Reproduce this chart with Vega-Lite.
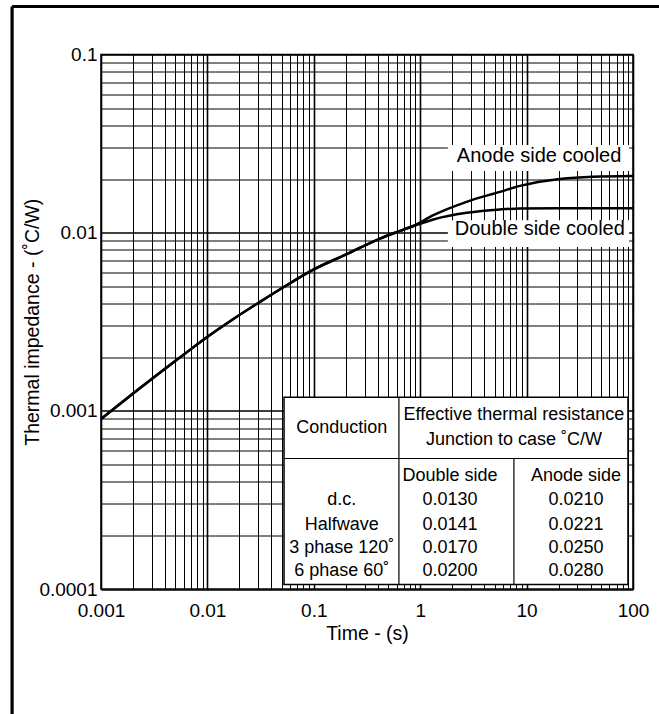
{
  "$schema": "https://vega.github.io/schema/vega-lite/v6.json",
  "width": 532,
  "height": 534.5,
  "autosize": {"type": "none"},
  "padding": {"left": 101, "top": 54.5, "right": 26, "bottom": 125},
  "background": "white",
  "config": {
    "view": {"stroke": "#000", "strokeWidth": 1.5},
    "font": "Liberation Sans",
    "text": {"font": "Liberation Sans", "color": "#000"},
    "axis": {
      "labelFont": "Liberation Sans",
      "titleFont": "Liberation Sans",
      "labelColor": "#000",
      "titleColor": "#000",
      "titleFontWeight": "normal",
      "labelFontSize": 19,
      "titleFontSize": 19.5,
      "ticks": false,
      "domain": false,
      "grid": true,
      "gridColor": "#000",
      "gridOpacity": 1,
      "labelOverlap": false,
      "labelFlush": false
    }
  },
  "datasets": {
    "curves": [
      {"series": "Anode", "x": 0.001, "y": 0.0009},
      {"series": "Anode", "x": 0.002, "y": 0.00125},
      {"series": "Anode", "x": 0.00333, "y": 0.001585},
      {"series": "Anode", "x": 0.00594, "y": 0.00206},
      {"series": "Anode", "x": 0.0098, "y": 0.00258},
      {"series": "Anode", "x": 0.01755, "y": 0.00328},
      {"series": "Anode", "x": 0.0312, "y": 0.00409},
      {"series": "Anode", "x": 0.0556, "y": 0.00507},
      {"series": "Anode", "x": 0.099, "y": 0.0062},
      {"series": "Anode", "x": 0.204, "y": 0.00757},
      {"series": "Anode", "x": 0.419, "y": 0.00927},
      {"series": "Anode", "x": 0.646, "y": 0.01023},
      {"series": "Anode", "x": 0.861, "y": 0.0109},
      {"series": "Anode", "x": 1.33, "y": 0.01254},
      {"series": "Anode", "x": 2.73, "y": 0.0149},
      {"series": "Anode", "x": 5.62, "y": 0.01695},
      {"series": "Anode", "x": 8.67, "y": 0.0183},
      {"series": "Anode", "x": 20.6, "y": 0.02},
      {"series": "Anode", "x": 42, "y": 0.0206},
      {"series": "Anode", "x": 100, "y": 0.0208},
      {"series": "Double", "x": 0.001, "y": 0.0009},
      {"series": "Double", "x": 0.002, "y": 0.00125},
      {"series": "Double", "x": 0.00333, "y": 0.001585},
      {"series": "Double", "x": 0.00594, "y": 0.00206},
      {"series": "Double", "x": 0.0098, "y": 0.00258},
      {"series": "Double", "x": 0.01755, "y": 0.00328},
      {"series": "Double", "x": 0.0312, "y": 0.00409},
      {"series": "Double", "x": 0.0556, "y": 0.00507},
      {"series": "Double", "x": 0.099, "y": 0.0062},
      {"series": "Double", "x": 0.204, "y": 0.00757},
      {"series": "Double", "x": 0.419, "y": 0.00927},
      {"series": "Double", "x": 0.646, "y": 0.01023},
      {"series": "Double", "x": 0.861, "y": 0.0109},
      {"series": "Double", "x": 1.33, "y": 0.01186},
      {"series": "Double", "x": 2.73, "y": 0.01292},
      {"series": "Double", "x": 5.62, "y": 0.0135},
      {"series": "Double", "x": 8.67, "y": 0.01368},
      {"series": "Double", "x": 20, "y": 0.0137},
      {"series": "Double", "x": 100, "y": 0.0137}
    ],
    "boxes": [
      {"name": "table", "x": 0.0525, "x2": 89.7, "y": 0.000106, "y2": 0.00119},
      {"name": "anodeLabel", "x": 1.82, "x2": 92, "y": 0.0222, "y2": 0.031},
      {"name": "doubleLabel", "x": 1.82, "x2": 92, "y": 0.0083, "y2": 0.01175}
    ],
    "tableLines": [
      {"x": 0.0525, "x2": 89.7, "y": 0.00054, "y2": 0.00054},
      {"x": 0.631, "x2": 0.631, "y": 0.000106, "y2": 0.00119},
      {"x": 7.6, "x2": 7.6, "y": 0.000106, "y2": 0.00054}
    ],
    "frame": [
      {"x": 0.000146, "x2": 0.000146, "y": 0.186, "y2": 0.0000185},
      {"x": 0.000146, "x2": 185, "y": 0.186, "y2": 0.186}
    ],
    "tableText": [
      {"x": 0.1828, "y": 0.0008, "label": "Conduction"},
      {"x": 7.6, "y": 0.000944, "label": "Effective thermal resistance"},
      {"x": 7.6, "y": 0.000683, "label": "Junction to case ˚C/W"},
      {"x": 1.905, "y": 0.00043, "label": "Double side"},
      {"x": 29.1, "y": 0.00043, "label": "Anode side"},
      {"x": 0.1828, "y": 0.000314, "label": "d.c."},
      {"x": 0.1828, "y": 0.00023, "label": "Halfwave"},
      {"x": 0.1828, "y": 0.00017, "label": "3 phase 120˚"},
      {"x": 0.1828, "y": 0.000126, "label": "6 phase 60˚"},
      {"x": 1.905, "y": 0.000314, "label": "0.0130"},
      {"x": 1.905, "y": 0.00023, "label": "0.0141"},
      {"x": 1.905, "y": 0.00017, "label": "0.0170"},
      {"x": 1.905, "y": 0.000126, "label": "0.0200"},
      {"x": 29.1, "y": 0.000314, "label": "0.0210"},
      {"x": 29.1, "y": 0.00023, "label": "0.0221"},
      {"x": 29.1, "y": 0.00017, "label": "0.0250"},
      {"x": 29.1, "y": 0.000126, "label": "0.0280"}
    ],
    "curveLabels": [
      {"x": 13.1, "y": 0.0269, "label": "Anode side cooled"},
      {"x": 13.3, "y": 0.01047, "label": "Double side cooled"}
    ]
  },
  "layer": [
    {
      "data": {"name": "curves"},
      "mark": {"type": "line", "color": "#000", "strokeWidth": 2.5, "interpolate": "monotone"},
      "encoding": {
        "x": {
          "field": "x", "type": "quantitative",
          "scale": {"type": "log", "domain": [0.001, 100], "nice": false},
          "axis": {
            "title": "Time - (s)",
            "format": "~g",
            "values": [0.001,0.002,0.003,0.004,0.005,0.006,0.007,0.008,0.009,0.01,0.02,0.03,0.04,0.05,0.06,0.07,0.08,0.09,0.1,0.2,0.3,0.4,0.5,0.6,0.7,0.8,0.9,1,2,3,4,5,6,7,8,9,10,20,30,40,50,60,70,80,90,100],
            "labelExpr": "indexof([0.001,0.01,0.1,1,10,100], datum.value) >= 0 ? datum.label : ''",
            "gridWidth": {"condition": {"test": "indexof([0.001,0.01,0.1,1,10,100], datum.value) >= 0", "value": 1.6}, "value": 1},
            "labelPadding": 12,
            "titlePadding": 4
          }
        },
        "y": {
          "field": "y", "type": "quantitative",
          "scale": {"type": "log", "domain": [0.0001, 0.1], "nice": false},
          "axis": {
            "title": "Thermal impedance - (˚C/W)",
            "format": "~g",
            "values": [0.0001,0.0002,0.0003,0.0004,0.0005,0.0006,0.0007,0.0008,0.0009,0.001,0.002,0.003,0.004,0.005,0.006,0.007,0.008,0.009,0.01,0.02,0.03,0.04,0.05,0.06,0.07,0.08,0.09,0.1],
            "labelExpr": "indexof([0.0001,0.001,0.01,0.1], datum.value) >= 0 ? datum.label : ''",
            "gridWidth": {"condition": {"test": "indexof([0.0001,0.001,0.01,0.1], datum.value) >= 0", "value": 1.6}, "value": 1},
            "labelPadding": 4,
            "titlePadding": -4
          }
        },
        "detail": {"field": "series"}
      }
    },
    {
      "data": {"name": "boxes"},
      "mark": {"type": "rect", "fill": "white"},
      "encoding": {
        "x": {"field": "x", "type": "quantitative"},
        "x2": {"field": "x2"},
        "y": {"field": "y", "type": "quantitative"},
        "y2": {"field": "y2"},
        "stroke": {"condition": {"test": "datum.name === 'table'", "value": "#000"}, "value": null},
        "strokeWidth": {"value": 1.5}
      }
    },
    {
      "data": {"name": "tableLines"},
      "mark": {"type": "rule", "color": "#000", "strokeWidth": 1.2},
      "encoding": {
        "x": {"field": "x", "type": "quantitative"},
        "x2": {"field": "x2"},
        "y": {"field": "y", "type": "quantitative"},
        "y2": {"field": "y2"}
      }
    },
    {
      "data": {"name": "frame"},
      "mark": {"type": "rule", "color": "#000", "strokeWidth": 3.2, "clip": false},
      "encoding": {
        "x": {"field": "x", "type": "quantitative"},
        "x2": {"field": "x2"},
        "y": {"field": "y", "type": "quantitative"},
        "y2": {"field": "y2"}
      }
    },
    {
      "data": {"name": "tableText"},
      "mark": {"type": "text", "fontSize": 18, "align": "center", "baseline": "middle", "color": "#000"},
      "encoding": {
        "x": {"field": "x", "type": "quantitative"},
        "y": {"field": "y", "type": "quantitative"},
        "text": {"field": "label"}
      }
    },
    {
      "data": {"name": "curveLabels"},
      "mark": {"type": "text", "fontSize": 20, "align": "center", "baseline": "middle", "color": "#000"},
      "encoding": {
        "x": {"field": "x", "type": "quantitative"},
        "y": {"field": "y", "type": "quantitative"},
        "text": {"field": "label"}
      }
    }
  ]
}
